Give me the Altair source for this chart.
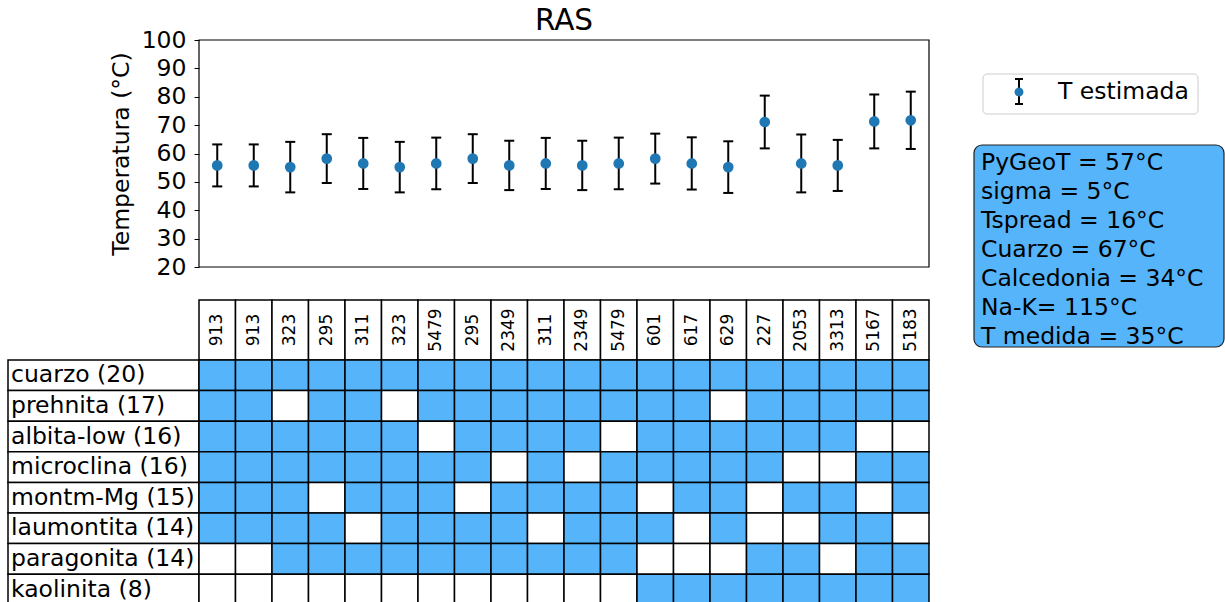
import altair as alt
import pandas as pd

FONT = "DejaVu Sans"
BLUE = "#56b4fa"
DOT = "#1f77b4"
FS = 23.5  # main text size

# Sample identifiers heading each column of the mineral table
sample_ids = ["913", "913", "323", "295", "311", "323", "5479", "295", "2349", "311",
              "2349", "5479", "601", "617", "629", "227", "2053", "3313", "5167", "5183"]

# Estimated temperature (°C) per sample and half-width of its error bar
t_est = [55.8, 55.8, 55.2, 58.2, 56.5, 55.2, 56.5, 58.2, 55.8, 56.5,
         55.8, 56.5, 58.2, 56.5, 55.2, 71.1, 56.5, 55.8, 71.3, 71.7]
t_err = [7.4, 7.4, 8.9, 8.6, 9.0, 8.9, 9.1, 8.6, 8.7, 9.0,
         8.7, 9.1, 8.8, 9.2, 9.1, 9.3, 10.2, 9.0, 9.5, 10.1]

# Minerals (with the number of samples they appear in) and presence per sample
minerals = ["cuarzo (20)", "prehnita (17)", "albita-low (16)", "microclina (16)",
            "montm-Mg (15)", "laumontita (14)", "paragonita (14)", "kaolinita (8)"]
presence = [
    [1, 1, 1, 1, 1, 1, 1, 1, 1, 1, 1, 1, 1, 1, 1, 1, 1, 1, 1, 1],
    [1, 1, 0, 1, 1, 0, 1, 1, 1, 1, 1, 1, 1, 1, 0, 1, 1, 1, 1, 1],
    [1, 1, 1, 1, 1, 1, 0, 1, 1, 1, 1, 0, 1, 1, 1, 1, 1, 1, 0, 0],
    [1, 1, 1, 1, 1, 1, 1, 1, 0, 1, 0, 1, 1, 1, 1, 1, 0, 0, 1, 1],
    [1, 1, 1, 0, 1, 1, 1, 0, 1, 1, 1, 1, 0, 1, 1, 0, 1, 1, 0, 1],
    [1, 1, 1, 1, 0, 1, 1, 1, 1, 0, 1, 1, 1, 0, 1, 0, 0, 1, 1, 0],
    [0, 0, 1, 1, 1, 1, 1, 1, 1, 1, 1, 1, 0, 0, 0, 1, 1, 0, 1, 1],
    [0, 0, 0, 0, 0, 0, 0, 0, 0, 0, 0, 0, 1, 1, 1, 1, 1, 1, 1, 1],
]

# Geothermometer summary
summary_lines = ["PyGeoT = 57°C", "sigma = 5°C", "Tspread = 16°C", "Cuarzo = 67°C",
                 "Calcedonia = 34°C", "Na-K= 115°C", "T medida = 35°C"]

# ---- layout (pixels) ----
N = len(sample_ids)
CELL_PX = 36.5
LABEL_PX = 191
RIGHT_PX = 296
W = LABEL_PX + N * CELL_PX + RIGHT_PX
TOP_H = 227
ROW_PX = 30.6
HEADER_PX = 60
HEADER = HEADER_PX / ROW_PX
NR = len(minerals)

xscale = alt.Scale(domain=[-LABEL_PX / CELL_PX, N + RIGHT_PX / CELL_PX], nice=False, zero=False)
yscale = alt.Scale(domain=[20, 100], nice=False, zero=False)
noX = dict(scale=xscale, axis=None)

yaxis = alt.Axis(values=list(range(20, 101, 10)), offset=-LABEL_PX, domain=False,
                 ticks=True, tickSize=5, tickColor="black", tickWidth=1,
                 labelFontSize=FS, labelColor="black", labelPadding=8, labelFont=FONT,
                 title="Temperatura (°C)", titleFontSize=FS, titleFontWeight="normal",
                 titleColor="black", titlePadding=8, titleFont=FONT, grid=False)

pts = pd.DataFrame({
    "pos": [i + 0.5 for i in range(N)],
    "muestra": sample_ids,
    "t": t_est,
    "lo": [t - e for t, e in zip(t_est, t_err)],
    "hi": [t + e for t, e in zip(t_est, t_err)],
})

frame_df = pd.DataFrame({"a": [0], "b": [N], "lo": [20], "hi": [100]})
frame = alt.Chart(frame_df).mark_rect(fill="white", fillOpacity=0, stroke="black", strokeWidth=1.2).encode(
    x=alt.X("a:Q", **noX), x2="b:Q",
    y=alt.Y("lo:Q", scale=yscale, axis=yaxis), y2="hi:Q")

bars = alt.Chart(pts).mark_rule(color="black", strokeWidth=2).encode(
    x=alt.X("pos:Q", **noX),
    y=alt.Y("lo:Q", scale=yscale, axis=yaxis), y2="hi:Q")
cap_lo = alt.Chart(pts).mark_tick(orient="horizontal", size=10, thickness=2, color="black", opacity=1).encode(
    x=alt.X("pos:Q", **noX), y=alt.Y("lo:Q", scale=yscale, axis=yaxis))
cap_hi = alt.Chart(pts).mark_tick(orient="horizontal", size=10, thickness=2, color="black", opacity=1).encode(
    x=alt.X("pos:Q", **noX), y=alt.Y("hi:Q", scale=yscale, axis=yaxis))
dots = alt.Chart(pts).mark_circle(size=115, opacity=1, color=DOT).encode(
    x=alt.X("pos:Q", **noX), y=alt.Y("t:Q", scale=yscale, axis=yaxis))

title_df = pd.DataFrame({"pos": [N / 2], "txt": ["RAS"]})
title = alt.Chart(title_df).mark_text(fontSize=29.5, font=FONT, baseline="alphabetic", align="center", color="black").encode(
    x=alt.X("pos:Q", **noX), y=alt.value(-10), text="txt:N")

# legend and summary box to the right of the plot
ann = alt.Chart(alt.Data(values=[{}]))
leg_box = ann.mark_rect(fill="white", stroke="#cccccc", strokeWidth=1, cornerRadius=4).encode(
    x=alt.value(975), x2=alt.value(1190), y=alt.value(34), y2=alt.value(74))
leg_bar = ann.mark_rule(color="black", strokeWidth=2).encode(
    x=alt.value(1011), y=alt.value(39), y2=alt.value(64))
leg_cap1 = ann.mark_rule(color="black", strokeWidth=2).encode(
    x=alt.value(1007), x2=alt.value(1015), y=alt.value(39))
leg_cap2 = ann.mark_rule(color="black", strokeWidth=2).encode(
    x=alt.value(1007), x2=alt.value(1015), y=alt.value(64))
leg_dot = ann.mark_circle(color=DOT, opacity=1, size=80).encode(x=alt.value(1011), y=alt.value(52))
leg_txt = ann.mark_text(text="T estimada", align="left", baseline="middle", fontSize=FS, font=FONT, color="black").encode(
    x=alt.value(1050), y=alt.value(52))

info_box = ann.mark_rect(fill=BLUE, stroke="#222222", strokeWidth=1.2, cornerRadius=8).encode(
    x=alt.value(966), x2=alt.value(1216), y=alt.value(105), y2=alt.value(307))
info_txt = ann.mark_text(text=summary_lines, lineHeight=29, align="left", baseline="alphabetic",
                         fontSize=FS, font=FONT, color="black").encode(x=alt.value(973), y=alt.value(130))

top = alt.layer(frame, bars, cap_lo, cap_hi, dots, title,
                leg_box, leg_bar, leg_cap1, leg_cap2, leg_dot, leg_txt,
                info_box, info_txt).properties(width=W, height=TOP_H)

# ---- mineral / sample table ----
yscale_b = alt.Scale(domain=[0, HEADER + NR], nice=False, zero=False, reverse=True)

hdr = pd.DataFrame({
    "x0": list(range(N)), "x1": [c + 1 for c in range(N)],
    "xc": [c + 0.5 for c in range(N)],
    "y0": [0] * N, "y1": [HEADER] * N, "yc": [HEADER / 2] * N,
    "muestra": sample_ids,
})
lab = pd.DataFrame({
    "x0": [-LABEL_PX / CELL_PX] * NR, "x1": [0] * NR,
    "y0": [HEADER + r for r in range(NR)], "y1": [HEADER + r + 1 for r in range(NR)],
    "yc": [HEADER + r + 0.5 for r in range(NR)],
    "mineral": minerals,
})
cells = pd.DataFrame([
    {"x0": c, "x1": c + 1, "y0": HEADER + r, "y1": HEADER + r + 1,
     "mineral": minerals[r], "muestra": sample_ids[c], "presente": presence[r][c]}
    for r in range(NR) for c in range(N)
])

hdr_rect = alt.Chart(hdr).mark_rect(fill="white", stroke="black", strokeWidth=1.5).encode(
    x=alt.X("x0:Q", **noX), x2="x1:Q", y=alt.Y("y0:Q", scale=yscale_b, axis=None), y2="y1:Q")
hdr_txt = alt.Chart(hdr).mark_text(angle=270, fontSize=17, font=FONT, align="center", baseline="middle", color="black").encode(
    x=alt.X("xc:Q", **noX), y=alt.Y("yc:Q", scale=yscale_b, axis=None), text="muestra:N")
lab_rect = alt.Chart(lab).mark_rect(fill="white", stroke="black", strokeWidth=1.5).encode(
    x=alt.X("x0:Q", **noX), x2="x1:Q", y=alt.Y("y0:Q", scale=yscale_b, axis=None), y2="y1:Q")
lab_txt = alt.Chart(lab).mark_text(fontSize=FS, font=FONT, align="left", baseline="middle", dx=3, color="black").encode(
    x=alt.X("x0:Q", **noX), y=alt.Y("yc:Q", scale=yscale_b, axis=None), text="mineral:N")
cell_rect = alt.Chart(cells).mark_rect(stroke="black", strokeWidth=1.5).encode(
    x=alt.X("x0:Q", **noX), x2="x1:Q", y=alt.Y("y0:Q", scale=yscale_b, axis=None), y2="y1:Q",
    fill=alt.condition("datum.presente == 1", alt.value(BLUE), alt.value("white")))

bottom = alt.layer(hdr_rect, hdr_txt, lab_rect, lab_txt, cell_rect).properties(
    width=W, height=HEADER_PX + NR * ROW_PX)

chart = alt.vconcat(top, bottom, spacing=33, bounds="flush").properties(
    padding={"left": 7, "top": 6, "right": 0, "bottom": 0}
).configure(font=FONT).configure_view(stroke="transparent", strokeWidth=0)

chart.save("out.html", embed_options={"renderer": "svg", "actions": False})
